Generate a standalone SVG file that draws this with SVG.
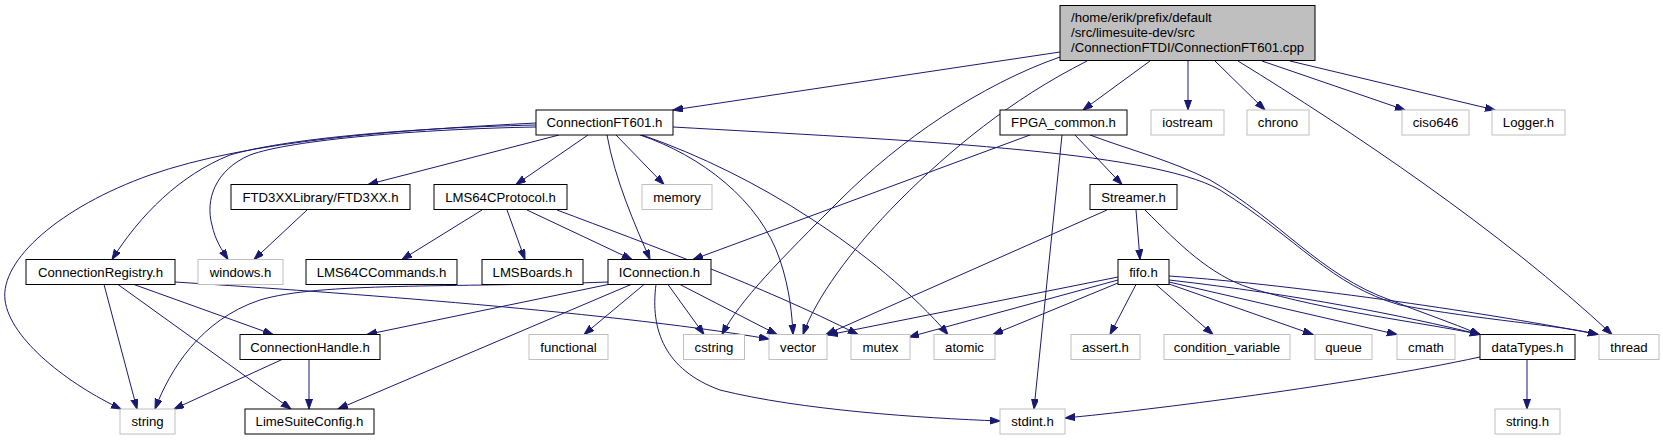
<svg xmlns="http://www.w3.org/2000/svg" width="1663" height="440" viewBox="0 0 1663 440">
<style>
.n rect{fill:#fff;stroke:#000;stroke-width:1}
.g rect{fill:#fff;stroke:#bfbfbf;stroke-width:1}
text{font-family:"Liberation Sans",Arial,sans-serif;font-size:13.2px;fill:#000}
.c{text-anchor:middle}
#edges path{fill:none;stroke:#191970;stroke-width:1;marker-end:url(#a)}
</style>
<defs>
<marker id="a" markerUnits="userSpaceOnUse" markerWidth="11" markerHeight="8" refX="10" refY="3.5" orient="auto">
<path d="M0,0 L10,3.5 L0,7 z" fill="#191970" stroke="#191970" stroke-width="1"/>
</marker>
</defs>
<rect width="1663" height="440" fill="#fff"/>
<g id="edges">
<path d="M1060,52 L673,110"/>
<path d="M1060,57 C980,85 900,140 840,200 C780,260 740,300 722,334.5"/>
<path d="M1087,61 C1010,100 950,150 900,200 C850,250 815,300 803,334.5"/>
<path d="M1150,61 L1083,110"/>
<path d="M1188,61 L1188,110"/>
<path d="M1215,61 L1265,110"/>
<path d="M1238,61 C1350,130 1500,230 1612,334.5"/>
<path d="M1262,61 L1405,110"/>
<path d="M1290,61 L1495,110"/>
<path d="M536,123 C400,130 250,140 150,175 C60,207 0,260 5,300 C10,340 70,385 121,409"/>
<path d="M536,125 C400,128 280,140 230,155 C180,175 140,215 112,259.5"/>
<path d="M536,127 C420,129 290,140 250,155 C215,170 205,200 212,225 C215,240 222,250 228,259.5"/>
<path d="M559,135 L368,184.5"/>
<path d="M588,135 L516,184.5"/>
<path d="M607,135 C615,180 635,225 650,259.5"/>
<path d="M616,135 L664,184.5"/>
<path d="M640,135 C700,155 760,200 780,260 C790,290 792,315 793,334.5"/>
<path d="M642,135 C700,155 760,185 810,218 C860,250 915,295 948,334.5"/>
<path d="M673,127 C900,140 1150,150 1220,190 C1300,240 1330,285 1400,305 C1480,320 1560,325 1598,334.5"/>
<path d="M307,210 L254,259.5"/>
<path d="M482,210 L402,259.5"/>
<path d="M507,210 L525,259.5"/>
<path d="M527,210 L632,259.5"/>
<path d="M557,210 C650,245 760,285 858,334.5"/>
<path d="M1030,135 L693,259.5"/>
<path d="M1062,135 L1034,409"/>
<path d="M1075,135 L1122,184.5"/>
<path d="M1090,135 C1130,150 1170,160 1210,180 C1280,220 1320,275 1390,300 C1420,312 1450,322 1480,334.5"/>
<path d="M1136,210 L1140,259.5"/>
<path d="M1107,210 L826,334.5"/>
<path d="M1145,210 C1180,245 1210,275 1250,288 C1330,312 1420,322 1480,334.5"/>
<path d="M175,282 C300,290 600,310 769,339"/>
<path d="M134,284.5 L273,334.5"/>
<path d="M104,284.5 L137,409"/>
<path d="M118,284.5 L291,409"/>
<path d="M608,282 C450,288 320,282 260,300 C200,320 170,370 155,409"/>
<path d="M608,284.5 L367,334.5"/>
<path d="M631,284.5 L338,409"/>
<path d="M644,284.5 L584,334.5"/>
<path d="M668,284.5 L704,334.5"/>
<path d="M680,284.5 L777,334.5"/>
<path d="M656,284.5 C650,330 665,370 720,390 C800,410 920,418 1000,421"/>
<path d="M282,359.5 L174,409"/>
<path d="M309,359.5 L309,409"/>
<path d="M1169,276 C1300,285 1500,315 1598,334.5"/>
<path d="M1169,280 C1300,295 1400,315 1480,334.5"/>
<path d="M1169,282 L1397,334.5"/>
<path d="M1169,284 L1313,334.5"/>
<path d="M1156,284.5 L1213,334.5"/>
<path d="M1136,284.5 L1110,334.5"/>
<path d="M1118,277 L828,335"/>
<path d="M1118,280 L909,337"/>
<path d="M1118,283 L993,334.5"/>
<path d="M1480,357 C1350,385 1150,410 1065,418"/>
<path d="M1527,359.5 L1527,409"/>
</g>
<g id="root"><rect x="1060" y="5.5" width="255" height="55" fill="#bfbfbf" stroke="#000"/>
<text x="1071" y="22">/home/erik/prefix/default</text>
<text x="1071" y="37">/src/limesuite-dev/src</text>
<text x="1071" y="51.5">/ConnectionFTDI/ConnectionFT601.cpp</text></g>
<g id="n_ConnectionFT601h" class="n"><rect x="536" y="110" width="137" height="25"/><text class="c" x="604.5" y="127">ConnectionFT601.h</text></g>
<g id="n_FPGA_common" class="n"><rect x="1000" y="110" width="127" height="25"/><text class="c" x="1063.5" y="127">FPGA_common.h</text></g>
<g id="n_iostream" class="g"><rect x="1151" y="110" width="73" height="25"/><text class="c" x="1187.5" y="127">iostream</text></g>
<g id="n_chrono" class="g"><rect x="1247" y="110" width="62" height="25"/><text class="c" x="1278" y="127">chrono</text></g>
<g id="n_ciso646" class="g"><rect x="1402" y="110" width="67" height="25"/><text class="c" x="1435.5" y="127">ciso646</text></g>
<g id="n_Logger" class="g"><rect x="1492" y="110" width="73" height="25"/><text class="c" x="1528.5" y="127">Logger.h</text></g>
<g id="n_FTD3XX" class="n"><rect x="231" y="184.5" width="179" height="25"/><text class="c" x="320.5" y="201.5">FTD3XXLibrary/FTD3XX.h</text></g>
<g id="n_LMS64CProtocol" class="n"><rect x="434" y="184.5" width="133" height="25"/><text class="c" x="500.5" y="201.5">LMS64CProtocol.h</text></g>
<g id="n_memory" class="g"><rect x="642" y="184.5" width="70" height="25"/><text class="c" x="677" y="201.5">memory</text></g>
<g id="n_Streamer" class="n"><rect x="1090" y="184.5" width="87" height="25"/><text class="c" x="1133.5" y="201.5">Streamer.h</text></g>
<g id="n_ConnectionRegistry" class="n"><rect x="26" y="259.5" width="149" height="25"/><text class="c" x="100.5" y="276.5">ConnectionRegistry.h</text></g>
<g id="n_windows" class="g"><rect x="198" y="259.5" width="85" height="25"/><text class="c" x="240.5" y="276.5">windows.h</text></g>
<g id="n_LMS64CCommands" class="n"><rect x="306" y="259.5" width="151" height="25"/><text class="c" x="381.5" y="276.5">LMS64CCommands.h</text></g>
<g id="n_LMSBoards" class="n"><rect x="482" y="259.5" width="101" height="25"/><text class="c" x="532.5" y="276.5">LMSBoards.h</text></g>
<g id="n_IConnection" class="n"><rect x="608" y="259.5" width="103" height="25"/><text class="c" x="659.5" y="276.5">IConnection.h</text></g>
<g id="n_fifo" class="n"><rect x="1118" y="259.5" width="51" height="25"/><text class="c" x="1143.5" y="276.5">fifo.h</text></g>
<g id="n_ConnectionHandle" class="n"><rect x="240" y="334.5" width="140" height="25"/><text class="c" x="310" y="351.5">ConnectionHandle.h</text></g>
<g id="n_functional" class="g"><rect x="529" y="334.5" width="79" height="25"/><text class="c" x="568.5" y="351.5">functional</text></g>
<g id="n_cstring" class="g"><rect x="683.5" y="334.5" width="61" height="25"/><text class="c" x="714" y="351.5">cstring</text></g>
<g id="n_vector" class="g"><rect x="769" y="334.5" width="58" height="25"/><text class="c" x="798" y="351.5">vector</text></g>
<g id="n_mutex" class="g"><rect x="851" y="334.5" width="59" height="25"/><text class="c" x="880.5" y="351.5">mutex</text></g>
<g id="n_atomic" class="g"><rect x="934" y="334.5" width="61" height="25"/><text class="c" x="964.5" y="351.5">atomic</text></g>
<g id="n_assert" class="g"><rect x="1071" y="334.5" width="69" height="25"/><text class="c" x="1105.5" y="351.5">assert.h</text></g>
<g id="n_condvar" class="g"><rect x="1164" y="334.5" width="126" height="25"/><text class="c" x="1227" y="351.5">condition_variable</text></g>
<g id="n_queue" class="g"><rect x="1315" y="334.5" width="57" height="25"/><text class="c" x="1343.5" y="351.5">queue</text></g>
<g id="n_cmath" class="g"><rect x="1397" y="334.5" width="58" height="25"/><text class="c" x="1426" y="351.5">cmath</text></g>
<g id="n_dataTypes" class="n"><rect x="1480" y="334.5" width="95" height="25"/><text class="c" x="1527.5" y="351.5">dataTypes.h</text></g>
<g id="n_thread" class="g"><rect x="1599" y="334.5" width="60" height="25"/><text class="c" x="1629" y="351.5">thread</text></g>
<g id="n_string" class="g"><rect x="120" y="409" width="55" height="25"/><text class="c" x="147.5" y="426">string</text></g>
<g id="n_LimeSuiteConfig" class="n"><rect x="245" y="409" width="129" height="25"/><text class="c" x="309.5" y="426">LimeSuiteConfig.h</text></g>
<g id="n_stdint" class="g"><rect x="1000" y="409" width="65" height="25"/><text class="c" x="1032.5" y="426">stdint.h</text></g>
<g id="n_stringh" class="g"><rect x="1495" y="409" width="65" height="25"/><text class="c" x="1527.5" y="426">string.h</text></g>
</svg>
